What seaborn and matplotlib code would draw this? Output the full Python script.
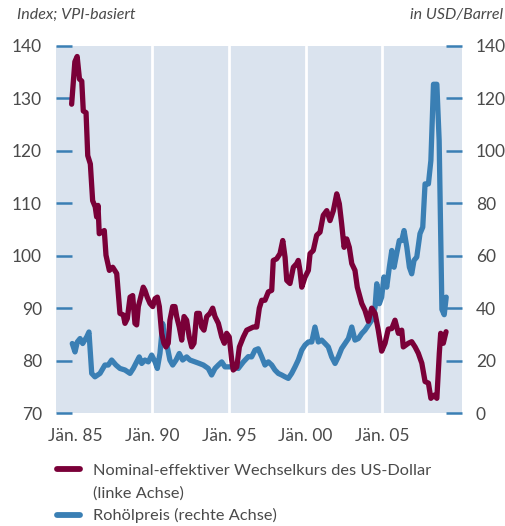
import numpy as np
import pandas as pd
import matplotlib
matplotlib.use("Agg")
import matplotlib.pyplot as plt
from matplotlib.lines import Line2D
import seaborn as sns

# ---------------- data ----------------
neer_years = [1984.74, 1984.95, 1985.10, 1985.25, 1985.40, 1985.50, 1985.68, 1985.79, 1985.96,
              1986.11, 1986.28, 1986.37, 1986.46, 1986.54, 1986.87, 1986.98, 1987.20, 1987.42,
              1987.68, 1987.89, 1988.11, 1988.22, 1988.37, 1988.55, 1988.72, 1988.87, 1988.98,
              1989.09, 1989.41, 1989.52, 1989.67, 1989.85, 1990.03, 1990.18, 1990.33, 1990.46,
              1990.61, 1990.76, 1990.89, 1991.04, 1991.15, 1991.33, 1991.48, 1991.59, 1991.76,
              1991.92, 1992.07, 1992.24, 1992.41, 1992.57, 1992.72, 1992.90, 1993.07, 1993.22,
              1993.37, 1993.55, 1993.76, 1993.94, 1994.09, 1994.31, 1994.53, 1994.70, 1994.85,
              1995.02, 1995.18, 1995.28, 1995.51, 1995.68, 1995.94, 1996.16, 1996.37, 1996.59,
              1996.81, 1996.98, 1997.14, 1997.35, 1997.57, 1997.79, 1997.89, 1998.11, 1998.33,
              1998.51, 1998.66, 1998.77, 1998.98, 1999.20, 1999.42, 1999.52, 1999.63, 1999.75,
              1999.96, 2000.18, 2000.29, 2000.50, 2000.72, 2000.94, 2001.15, 2001.38, 2001.59,
              2001.81, 2002.03, 2002.20, 2002.35, 2002.51, 2002.68, 2002.85, 2003.01, 2003.22,
              2003.37, 2003.55, 2003.66, 2003.87, 2004.09, 2004.31, 2004.53, 2004.74, 2004.96,
              2005.18, 2005.39, 2005.62, 2005.83, 2006.05, 2006.27, 2006.37, 2006.70, 2006.92,
              2007.14, 2007.35, 2007.58, 2007.79, 2008.01, 2008.17, 2008.38, 2008.56, 2008.72,
              2008.81, 2008.98, 2009.16]
neer_values = [128.9, 137.0, 138.0, 133.7, 133.3, 127.6, 127.3, 119.1, 117.5,
               110.5, 109.3, 107.4, 109.6, 104.2, 104.8, 100.1, 97.2, 97.8,
               96.6, 89.0, 88.7, 87.1, 88.0, 92.1, 92.4, 87.1, 86.8,
               90.3, 94.0, 93.4, 92.1, 90.9, 90.3, 91.8, 92.1, 90.3,
               85.2, 83.3, 82.6, 83.3, 87.7, 90.3, 90.3, 88.4, 86.4,
               83.9, 88.4, 87.7, 84.5, 82.6, 83.3, 89.0, 89.0, 86.4,
               85.8, 88.4, 89.0, 90.0, 88.4, 87.1, 84.5, 83.3, 85.2,
               84.5, 80.1, 78.2, 78.8, 82.6, 84.5, 85.8, 86.1, 86.4,
               86.4, 90.0, 91.5, 91.5, 93.1, 93.4, 99.1, 99.4, 100.4,
               102.9, 99.7, 95.3, 94.7, 97.8, 98.5, 99.1, 97.2, 94.0,
               95.9, 97.2, 100.4, 101.0, 103.9, 104.5, 107.7, 108.6, 106.7,
               108.6, 111.8, 109.9, 106.1, 101.6, 103.2, 101.6, 98.5, 97.2,
               94.0, 92.1, 90.9, 89.6, 87.5, 90.0, 89.0, 85.8, 81.8,
               83.3, 86.0, 86.1, 87.7, 85.2, 85.8, 82.6, 83.3, 83.6,
               82.6, 81.4, 79.5, 76.0, 75.7, 72.8, 73.4, 72.8, 81.4,
               85.2, 83.3, 85.5]

oil_years = [1984.78, 1984.96, 1985.11, 1985.29, 1985.46, 1985.72, 1985.87, 1986.05, 1986.26,
             1986.59, 1986.91, 1987.13, 1987.35, 1987.63, 1987.89, 1988.22, 1988.55, 1988.76,
             1988.98, 1989.15, 1989.31, 1989.52, 1989.74, 1989.96, 1990.18, 1990.33, 1990.50,
             1990.68, 1990.83, 1990.98, 1991.15, 1991.33, 1991.55, 1991.76, 1991.98, 1992.24,
             1992.46, 1992.79, 1993.07, 1993.33, 1993.65, 1993.87, 1994.09, 1994.31, 1994.53,
             1994.74, 1994.96, 1995.28, 1995.61, 1995.94, 1996.26, 1996.48, 1996.70, 1996.91,
             1997.14, 1997.35, 1997.57, 1997.79, 1998.00, 1998.22, 1998.44, 1998.66, 1998.87,
             1999.09, 1999.31, 1999.52, 1999.75, 1999.96, 2000.18, 2000.40, 2000.61, 2000.83,
             2001.05, 2001.27, 2001.48, 2001.70, 2001.92, 2002.13, 2002.35, 2002.57, 2002.79,
             2003.01, 2003.22, 2003.44, 2003.66, 2003.87, 2004.09, 2004.31, 2004.53, 2004.64,
             2004.81, 2004.96, 2005.11, 2005.29, 2005.46, 2005.62, 2005.77, 2005.94, 2006.11,
             2006.27, 2006.42, 2006.60, 2006.77, 2006.92, 2007.07, 2007.25, 2007.46, 2007.64,
             2007.79, 2008.01, 2008.17, 2008.34, 2008.56, 2008.71, 2008.89, 2009.04, 2009.17]
oil_values = [26.5, 23.3, 27.1, 28.4, 26.5, 29.0, 30.9, 15.1, 13.8,
              15.1, 18.3, 18.3, 20.2, 18.3, 17.0, 16.4, 15.1, 17.0,
              19.5, 21.4, 18.9, 20.2, 19.5, 22.1, 19.5, 17.0, 22.7,
              34.1, 27.8, 25.2, 20.2, 18.3, 20.2, 22.7, 20.2, 21.4,
              20.2, 19.5, 18.9, 18.3, 17.0, 14.5, 17.0, 18.3, 19.5,
              17.6, 17.6, 17.6, 17.0, 19.5, 21.5, 21.4, 24.0, 24.5,
              21.4, 18.3, 19.5, 18.3, 16.4, 15.1, 14.5, 13.8, 13.2,
              15.1, 17.6, 20.2, 24.0, 25.9, 27.1, 27.1, 32.8, 27.1,
              27.8, 26.5, 25.2, 21.4, 18.9, 21.4, 24.6, 26.5, 28.4,
              32.8, 27.8, 28.4, 30.3, 31.6, 33.5, 35.4, 40.4, 49.3,
              41.7, 44.2, 51.9, 48.0, 55.6, 62.0, 55.6, 60.8, 65.8,
              65.8, 69.6, 63.3, 55.6, 53.1, 58.2, 59.5, 68.4, 70.9,
              87.4, 87.4, 96.3, 125.4, 125.4, 103.9, 39.5, 37.5, 44.2]

xtick_years = [1985, 1990, 1995, 2000, 2005]
xtick_labels = ["Jän. 85", "Jän. 90", "Jän. 95", "Jän. 00", "Jän. 05"]
left_ticks = [70, 80, 90, 100, 110, 120, 130, 140]
right_ticks = [0, 20, 40, 60, 80, 100, 120, 140]
grid_years = [1990, 1995, 2000, 2005]

legend_rows = ["Nominal-effektiver Wechselkurs des US-Dollar",
               "(linke Achse)",
               "Rohölpreis (rechte Achse)"]
title_left = "Index; VPI-basiert"
title_right = "in USD/Barrel"

# ---------------- style ----------------
sns.set_theme(style="white")
plt.rcParams['font.family'] = ['Lato', 'DejaVu Sans']

MAROON = "#7a0038"
BLUE = "#3a7fb4"
BG = "#dae3ee"
TXT = "#4a4a4a"

df_neer = pd.DataFrame({"year": neer_years, "value": neer_values})
df_oil = pd.DataFrame({"year": oil_years, "value": oil_values})

fig = plt.figure(figsize=(5.06, 5.26), dpi=100)
ax = fig.add_axes([56/506, 1-413/526, (462-56)/506, (413-46)/526])
ax2 = ax.twinx()

# right axis (oil) behind, carries the background; left axis (NEER) on top
ax2.set_zorder(0)
ax.set_zorder(1)
ax2.patch.set_visible(True)
ax2.patch.set_facecolor(BG)
ax.patch.set_visible(False)

for g in grid_years:
    ax2.axvline(g, color="white", lw=2.0, zorder=1)

sns.lineplot(data=df_oil, x="year", y="value", ax=ax2, color=BLUE, lw=3.8,
             estimator=None, sort=False, legend=False)
sns.lineplot(data=df_neer, x="year", y="value", ax=ax, color=MAROON, lw=3.8,
             estimator=None, sort=False, legend=False)

xmin, xmax = 1983.72, 2010.2
for a in (ax, ax2):
    a.set_xlim(xmin, xmax)
    a.set_xlabel("")
    a.set_ylabel("")
    a.grid(False)
    for s in a.spines.values():
        s.set_visible(False)

ax.set_ylim(70, 140)
ax2.set_ylim(0, 140)
ax.set_yticks(left_ticks)
ax2.set_yticks(right_ticks)
ax.set_xticks(xtick_years)
ax.set_xticklabels(xtick_labels)

ax.tick_params(axis="y", direction="in", length=11.5, width=1.8, color=BLUE,
               pad=10, labelsize=12.5, labelcolor=TXT, left=True, right=False)
ax2.tick_params(axis="y", direction="in", length=11.5, width=1.8, color=BLUE,
                pad=10, labelsize=12.5, labelcolor=TXT, right=True, left=False)
ax.tick_params(axis="x", length=0, pad=11, labelsize=12.5, labelcolor=TXT)
ax2.tick_params(axis="x", length=0, labelbottom=False)

fig.text(17/506, 1-15/526, title_left, ha="left", va="center", style="italic",
         fontsize=11.5, color=TXT)
fig.text(503/506, 1-15/526, title_right, ha="right", va="center", style="italic",
         fontsize=11.5, color=TXT)

handles = [Line2D([0], [0], color=MAROON, lw=4.2),
           Line2D([0], [0], color="none", lw=0),
           Line2D([0], [0], color=BLUE, lw=4.2)]
fig.legend(handles, legend_rows, loc="upper left",
           bbox_to_anchor=(50/506, 1-457/526), frameon=False, fontsize=11.8,
           labelcolor=TXT, handlelength=1.45, handletextpad=0.75,
           labelspacing=0.48, borderaxespad=0)

fig.savefig("out.png", dpi=100)
